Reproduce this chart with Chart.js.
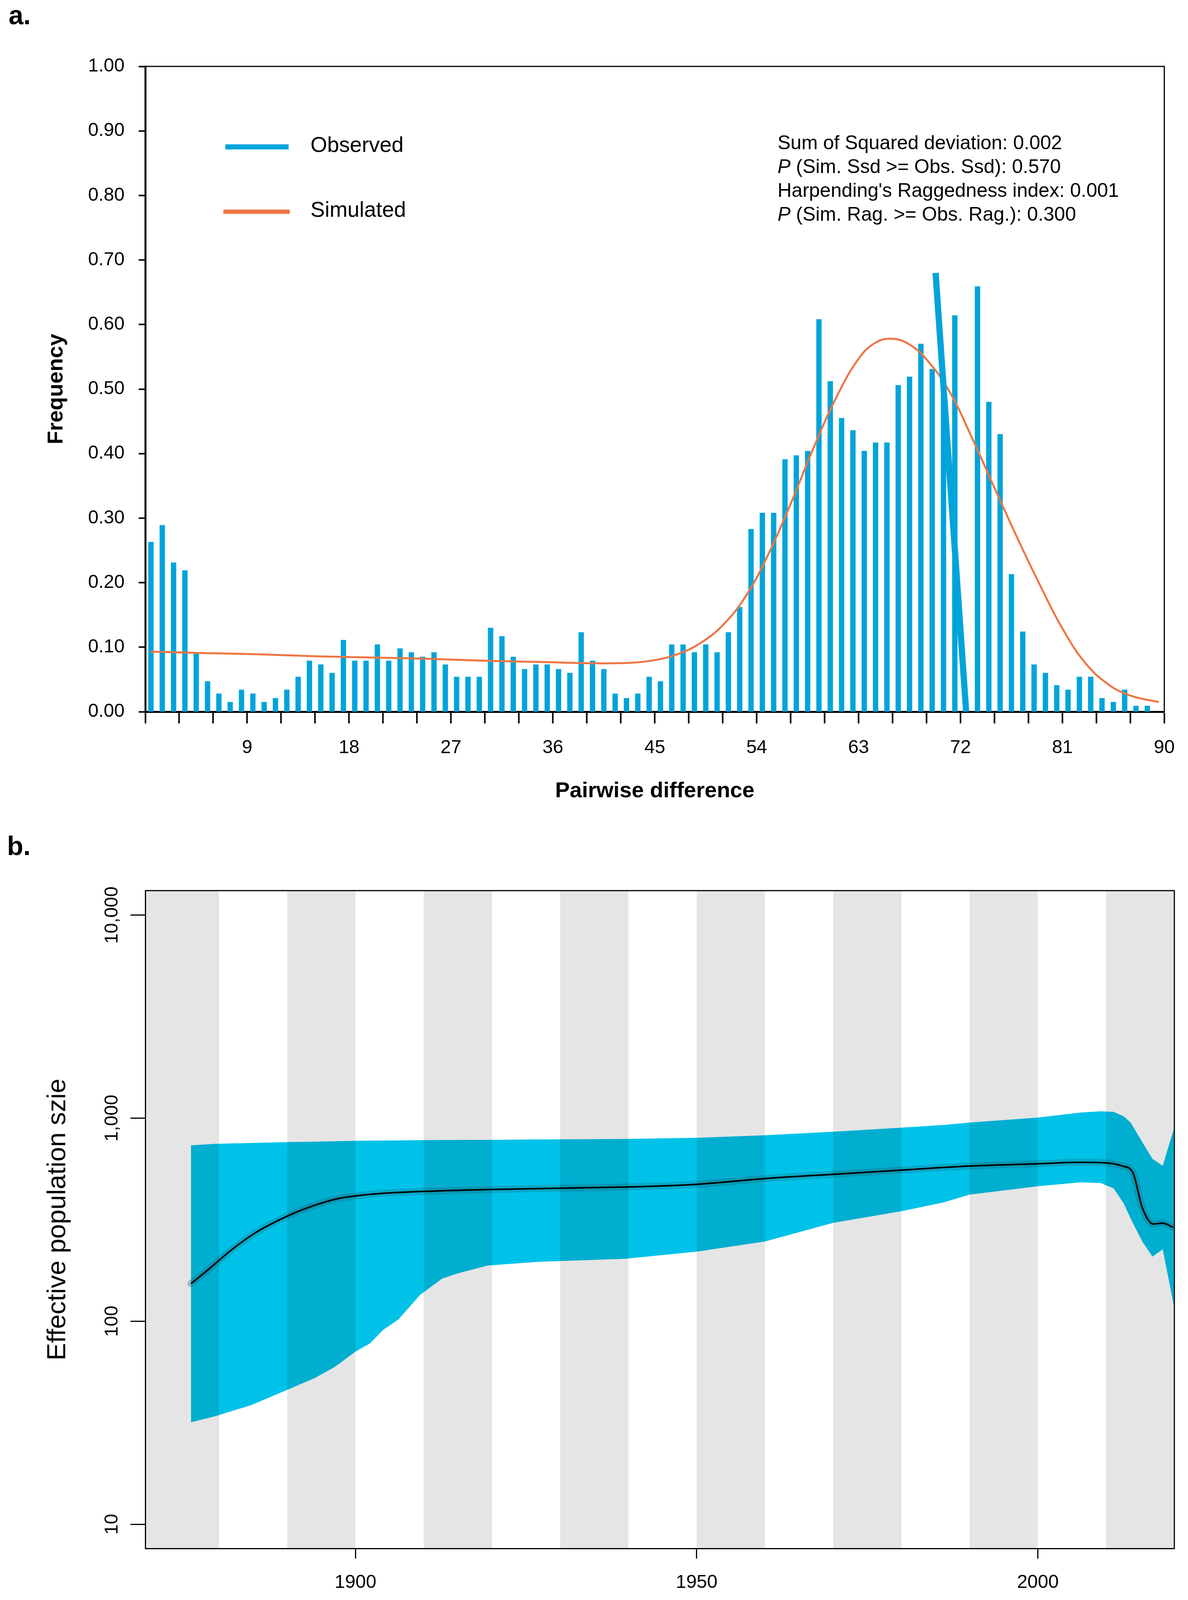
<!DOCTYPE html>
<html lang="en">
<head>
<meta charset="utf-8">
<title>Mismatch distribution and skyline plot</title>
<script src="https://cdn.jsdelivr.net/npm/chart.js@4.4.1/dist/chart.umd.min.js"></script>
<style>
  body { margin:0; background:#fff; width:3042px; height:4233px; position:relative;
         font-family:"Liberation Sans", Arial, sans-serif; }
  .tag { position:absolute; font-weight:bold; font-size:68px; line-height:1; }
  #boxA { position:absolute; left:0; top:0; width:3042px; height:2100px; }
  #boxB { position:absolute; left:0; top:2100px; width:3042px; height:2133px; }
</style>
</head>
<body>
<div id="boxA"><canvas id="chartA" width="3042" height="2100"></canvas></div>
<div id="boxB"><canvas id="chartB" width="3042" height="2133"></canvas></div>
<div class="tag" style="left:22px; top:4px;">a.</div>
<div class="tag" style="left:18px; top:2131px;">b.</div>

<script>
// ---- panel a: mismatch distribution ----
// observed frequency for pairwise differences 1..89 (73 is hidden under the stray stroke)
const observed = [
  0.263, 0.289, 0.231, 0.219, 0.091, 0.047, 0.028, 0.015, 0.034, 0.028,
  0.015, 0.021, 0.034, 0.054, 0.079, 0.073, 0.060, 0.111, 0.079, 0.079,
  0.104, 0.079, 0.098, 0.092, 0.085, 0.092, 0.073, 0.054, 0.054, 0.054,
  0.130, 0.117, 0.085, 0.066, 0.073, 0.073, 0.066, 0.060, 0.123, 0.079,
  0.066, 0.028, 0.021, 0.028, 0.054, 0.047, 0.104, 0.104, 0.092, 0.104,
  0.092, 0.123, 0.162, 0.283, 0.308, 0.308, 0.391, 0.397, 0.404, 0.608,
  0.512, 0.455, 0.436, 0.404, 0.417, 0.417, 0.506, 0.519, 0.570, 0.531,
  0.500, 0.614, null,  0.659, 0.480, 0.430, 0.213, 0.124, 0.073, 0.060,
  0.041, 0.034, 0.054, 0.054, 0.021, 0.015, 0.034, 0.009, 0.009
];
const diffs = observed.map((v, i) => i + 1);

// simulated curve, read at these pairwise differences
const simX = [0.5, 5, 10, 15, 20, 25, 30, 35, 40, 43, 45, 47, 49, 51, 53, 55, 57, 59,
              61, 63, 64.5, 66, 67.5, 69, 71, 73, 75, 77, 79, 81, 83, 85, 87, 89.5];
const simY = [0.093, 0.091, 0.089, 0.086, 0.084, 0.082, 0.079, 0.077, 0.075, 0.076, 0.080,
              0.089, 0.106, 0.134, 0.178, 0.243, 0.322, 0.408, 0.486, 0.547, 0.572, 0.578,
              0.569, 0.546, 0.497, 0.425, 0.347, 0.270, 0.197, 0.129, 0.076, 0.043, 0.025, 0.015];

// the slanted stroke drawn across 70..72 in the figure
const strokeX = [69.8, 72.5];
const strokeY = [0.68, 0];

const statLines = [
  ['', 'Sum of Squared deviation: 0.002'],
  ['P', ' (Sim. Ssd >= Obs. Ssd): 0.570'],
  ['', "Harpending's Raggedness index: 0.001"],
  ['P', ' (Sim. Rag. >= Obs. Rag.): 0.300']
];

// ---- panel b: skyline ----
const bandYears = [1875.9, 1879.4, 1884.7, 1890, 1894, 1897, 1900, 1902.2, 1904, 1906.3,
                   1909.5, 1912.7, 1915, 1919.4, 1926.8, 1939.5, 1950, 1960, 1970, 1980,
                   1986.1, 1990, 2000, 2006.3, 2009.2, 2011.1, 2012.6, 2013.6, 2015.3,
                   2016.8, 2018.3, 2019.9];
const upperNe = [735, 747, 755, 762, 766, 770, 773, 775, 776, 777, 779, 780, 781, 782, 785,
                 790, 800, 824, 857, 898, 925, 951, 1007, 1066, 1080, 1075, 1020, 951, 762,
                 630, 583, 880];
const lowerNe = [31.8, 34, 38.6, 45.9, 52.4, 59.6, 70.8, 78, 90.3, 102, 135, 162, 172, 188,
                 196, 203, 220, 247, 305, 348, 384, 420, 462, 483, 479, 451, 379, 320, 247,
                 208, 226, 120];
const medianYears = [1875.9, 1878.3, 1881.8, 1885.3, 1890, 1894, 1897.5, 1900, 1904, 1909.5,
                     1919.4, 1939.5, 1950, 1960, 1970, 1980, 1990, 2000, 2006.3, 2010.5,
                     2012.3, 2013.9, 2015.3, 2016.9, 2018.3, 2019.8];
const medianNe = [153, 178, 224, 272, 329, 372, 402, 414, 426, 435, 445, 458, 472, 504, 529,
                  555, 581, 596, 606, 600, 582, 541, 363, 301, 304, 290];
const greyBands = [[1860, 1880], [1890, 1900], [1910, 1920], [1930, 1940], [1950, 1960],
                   [1970, 1980], [1990, 2000], [2010, 2020]];
const yearTicks = [1900, 1950, 2000];
const neTicks = [10, 100, 1000, 10000];

const FONT = '"Liberation Sans", Arial, sans-serif';
Chart.defaults.font.family = FONT;
Chart.defaults.color = '#000';

const BLUE = '#00a4da';
const ORANGE = '#ee7543';
const CYAN = '#00c2e8';

const whiteBg = {
  id: 'whiteBg',
  beforeDraw(chart) {
    const c = chart.ctx;
    c.save(); c.fillStyle = '#fff'; c.fillRect(0, 0, chart.width, chart.height); c.restore();
  }
};

// top and right edges of the box
function frame(width) {
  return {
    id: 'frame',
    afterDraw(chart) {
      const a = chart.chartArea, c = chart.ctx;
      c.save();
      c.strokeStyle = '#000'; c.lineWidth = width;
      c.beginPath();
      c.moveTo(a.left, a.top); c.lineTo(a.right, a.top); c.lineTo(a.right, a.bottom);
      c.stroke();
      c.restore();
    }
  };
}

const legendA = {
  id: 'legendA',
  afterDraw(chart) {
    const c = chart.ctx;
    c.save();
    c.lineCap = 'butt';
    c.strokeStyle = BLUE; c.lineWidth = 13;
    c.beginPath(); c.moveTo(577, 376); c.lineTo(739, 376); c.stroke();
    c.strokeStyle = ORANGE; c.lineWidth = 11;
    c.beginPath(); c.moveTo(572, 542); c.lineTo(742, 542); c.stroke();
    c.fillStyle = '#000';
    c.textBaseline = 'middle';
    c.font = '55px ' + FONT;
    c.fillText('Observed', 795, 374);
    c.fillText('Simulated', 795, 540);
    c.font = '50px ' + FONT;
    statLines.forEach((ln, i) => {
      const y = 368 + i * 61;
      let x = 1991;
      if (ln[0]) {
        c.font = 'italic 50px ' + FONT;
        c.fillText(ln[0], x, y);
        x += c.measureText(ln[0]).width;
        c.font = '50px ' + FONT;
      }
      c.fillText(ln[1], x, y);
    });
    c.restore();
  }
};

new Chart(document.getElementById('chartA'), {
  type: 'bar',
  data: {
    datasets: [
      {
        type: 'line', label: 'stroke',
        data: strokeX.map((x, i) => ({x: x, y: strokeY[i]})),
        borderColor: BLUE, borderWidth: 16, pointRadius: 0, borderCapStyle: 'butt', order: 0
      },
      {
        type: 'line', label: 'Simulated',
        data: simX.map((x, i) => ({x: x, y: simY[i]})),
        borderColor: ORANGE, borderWidth: 5, pointRadius: 0, tension: 0.4, order: 1
      },
      {
        label: 'Observed',
        data: diffs.map((d, i) => ({x: d - 0.5, y: observed[i]})),
        backgroundColor: BLUE, barThickness: 13, order: 2
      }
    ]
  },
  options: {
    responsive: false, animation: false, devicePixelRatio: 1,
    layout: { padding: { left: 0, top: 170, right: 35, bottom: 0 } },
    plugins: { legend: { display: false }, tooltip: { enabled: false } },
    scales: {
      x: {
        type: 'linear', min: 0, max: 90, offset: false,
        afterFit: s => { s.height = 2100 - 1822; },
        grid: { offset: false, drawOnChartArea: false, drawTicks: true, tickLength: 30,
                tickWidth: 4, tickColor: '#000' },
        border: { display: true, color: '#000', width: 5 },
        ticks: { stepSize: 3, autoSkip: false, maxRotation: 0, padding: 34,
                 font: { size: 48 },
                 callback: v => (v > 0 && v % 9 === 0) ? String(v) : '' },
        title: { display: true, text: 'Pairwise difference',
                 font: { size: 56, weight: 'bold' }, padding: { bottom: 41 } }
      },
      y: {
        min: 0, max: 1,
        afterFit: s => { s.width = 372; },
        grid: { drawOnChartArea: false, drawTicks: true, tickLength: 17,
                tickWidth: 4, tickColor: '#000' },
        border: { display: true, color: '#000', width: 5 },
        ticks: { stepSize: 0.1, padding: 36, font: { size: 48 },
                 callback: v => Number(v).toFixed(2) },
        title: { display: true, text: 'Frequency',
                 font: { size: 56, weight: 'bold' }, padding: { top: 111 } }
      }
    }
  },
  plugins: [whiteBg, frame(3), legendA]
});

// grey decade bands, multiplied over the ribbon so it darkens where they cross
const bandsB = {
  id: 'bandsB',
  afterDatasetsDraw(chart) {
    const a = chart.chartArea, c = chart.ctx, xs = chart.scales.x;
    c.save();
    c.beginPath(); c.rect(a.left, a.top, a.right - a.left, a.bottom - a.top); c.clip();
    c.globalCompositeOperation = 'multiply';
    c.fillStyle = '#e5e5e5';
    greyBands.forEach(b => {
      const x0 = xs.getPixelForValue(b[0]), x1 = xs.getPixelForValue(b[1]);
      c.fillRect(x0, a.top, x1 - x0, a.bottom - a.top);
    });
    c.restore();
  }
};

new Chart(document.getElementById('chartB'), {
  type: 'line',
  data: {
    datasets: [
      {
        label: 'upper',
        data: bandYears.map((x, i) => ({x: x, y: upperNe[i]})),
        borderWidth: 0, pointRadius: 0, backgroundColor: CYAN, fill: '+1', order: 3
      },
      {
        label: 'lower',
        data: bandYears.map((x, i) => ({x: x, y: lowerNe[i]})),
        borderWidth: 0, pointRadius: 0, fill: false, order: 2
      },
      {
        label: 'halo',
        data: medianYears.map((x, i) => ({x: x, y: medianNe[i]})),
        borderColor: 'rgba(20,120,140,0.35)', borderWidth: 18, pointRadius: 0,
        borderCapStyle: 'round', cubicInterpolationMode: 'monotone', fill: false, order: 1
      },
      {
        label: 'median',
        data: medianYears.map((x, i) => ({x: x, y: medianNe[i]})),
        borderColor: '#000', borderWidth: 4, pointRadius: 0,
        cubicInterpolationMode: 'monotone', fill: false, order: 0
      }
    ]
  },
  options: {
    responsive: false, animation: false, devicePixelRatio: 1,
    layout: { padding: { left: 0, top: 180, right: 35, bottom: 0 } },
    plugins: { legend: { display: false }, tooltip: { enabled: false } },
    scales: {
      x: {
        type: 'linear', min: 1869.2, max: 2020.0,
        afterFit: s => { s.height = 2133 - 1864; },
        afterBuildTicks: s => { s.ticks = yearTicks.map(v => ({value: v})); },
        grid: { drawOnChartArea: false, drawTicks: true, tickLength: 26,
                tickWidth: 3, tickColor: '#000' },
        border: { display: true, color: '#000', width: 3 },
        ticks: { autoSkip: false, maxRotation: 0, padding: 33, font: { size: 48 },
                 callback: v => String(v) },
        title: { display: true, text: 'Sampling Year',
                 font: { size: 55, weight: 'bold' }, padding: { bottom: 27 } }
      },
      y: {
        type: 'logarithmic', min: 7.6, max: 13200,
        afterFit: s => { s.width = 372; },
        afterBuildTicks: s => { s.ticks = neTicks.map(v => ({value: v})); },
        grid: { drawOnChartArea: false, drawTicks: true, tickLength: 38,
                tickWidth: 3, tickColor: '#000' },
        border: { display: true, color: '#000', width: 3 },
        ticks: { minRotation: 90, maxRotation: 90, crossAlign: 'center', padding: -27,
                 font: { size: 48 },
                 callback: v => Number(v).toLocaleString('en-US') },
        title: { display: true, text: 'Effective population szie',
                 font: { size: 67 }, padding: { top: 108 } }
      }
    }
  },
  plugins: [whiteBg, bandsB, frame(3)]
});
</script>
</body>
</html>
